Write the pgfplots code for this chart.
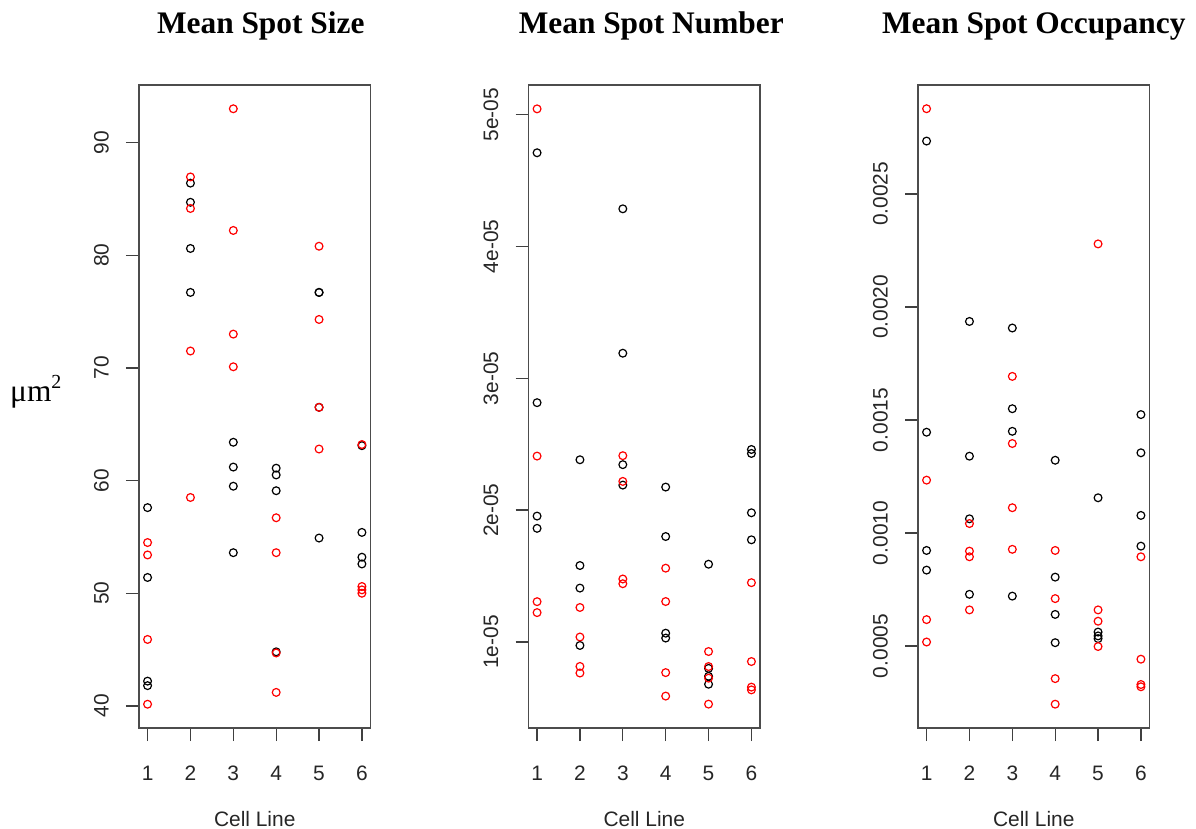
\documentclass[border=0pt]{standalone}
\usepackage{fontspec}
\setmainfont{Liberation Sans}
\newfontfamily\seriffont{Liberation Serif}
\usepackage{pgfplots}
\usepackage{pgfplotstable}
\pgfplotsset{compat=1.18}

\definecolor{rred}{HTML}{FF0000}

\pgfplotstableread{
x b r
1 57.6 54.5
1 51.4 53.4
1 42.2 45.9
1 41.8 40.15
2 86.4 86.95
2 84.7 84.15
2 80.6 71.5
2 76.7 58.5
3 63.4 93.0
3 61.2 82.2
3 59.5 73.0
3 53.6 70.1
4 61.1 56.7
4 60.5 53.6
4 59.1 44.7
4 44.8 41.2
5 76.7 80.8
5 76.7 74.3
5 66.5 66.5
5 54.9 62.8
6 63.1 63.2
6 55.4 50.6
6 53.2 50.3
6 52.6 50.0
}\sizedata

\pgfplotstableread{
x b r
1 4.71e-5 5.043e-5
1 2.815e-5 2.41e-5
1 1.955e-5 1.306e-5
1 1.862e-5 1.223e-5
2 2.382e-5 1.262e-5
2 1.58e-5 1.038e-5
2 1.409e-5 0.815e-5
2 0.974e-5 0.765e-5
3 4.285e-5 2.413e-5
3 3.19e-5 2.218e-5
3 2.345e-5 1.478e-5
3 2.19e-5 1.442e-5
4 2.175e-5 1.56e-5
4 1.80e-5 1.307e-5
4 1.067e-5 0.768e-5
4 1.03e-5 0.59e-5
5 1.59e-5 0.928e-5
5 0.80e-5 0.814e-5
5 0.74e-5 0.726e-5
5 0.68e-5 0.529e-5
6 2.46e-5 1.45e-5
6 2.43e-5 0.852e-5
6 1.98e-5 0.658e-5
6 1.775e-5 0.637e-5
}\numberdata

\pgfplotstableread{
x b r
1 0.002734 0.002877
1 0.001446 0.001234
1 0.000923 0.000617
1 0.000836 0.000518
2 0.001936 0.001042
2 0.001340 0.000920
2 0.001063 0.000895
2 0.000729 0.000660
3 0.001907 0.001693
3 0.001550 0.001396
3 0.001450 0.001112
3 0.000721 0.000928
4 0.001322 0.000923
4 0.000805 0.000710
4 0.000640 0.000356
4 0.000515 0.000243
5 0.001156 0.002279
5 0.000562 0.000660
5 0.000545 0.000610
5 0.000533 0.000498
6 0.001524 0.000895
6 0.001355 0.000442
6 0.001078 0.000330
6 0.000942 0.000320
}\occdata

\pgfplotsset{
  rpanel/.style={
    scale only axis, width=231.5bp, height=643bp, anchor=south west,
    xmin=0.8, xmax=6.2, xtick={1,2,3,4,5,6},
    tick pos=left, tick align=outside, major tick length=13bp,
    tick style={black!75, line width=1.3bp},
    axis line style={black!70, line width=1.6bp},
    scaled y ticks=false,
    /pgf/number format/assume math mode=true,
    every tick label/.append style={font=\fontsize{21}{25}\selectfont, text=black!85},
    xticklabel style={anchor=north, inner sep=0pt},
    yticklabel style={rotate=90, anchor=base, inner sep=0pt},
    xticklabel shift=25bp,
    yticklabel shift=17.5bp,
    xlabel={Cell Line},
    xlabel style={font=\fontsize{21}{25}\selectfont, text=black!85, at={(axis description cs:0.5,0)}, anchor=base, yshift=-98.5bp, inner sep=0pt},
    title style={font=\seriffont\bfseries\fontsize{31.5}{36}\selectfont, at={(axis description cs:0.5,1)}, anchor=base, yshift=45.7bp, inner sep=0pt},
  },
  bpts/.style={only marks, mark=o, mark size=3.9bp, black, mark options={line width=1.2bp}},
  rpts/.style={only marks, mark=o, mark size=3.9bp, rred, mark options={line width=1.2bp}},
}

\begin{document}
\begin{tikzpicture}
\path[use as bounding box] (0bp,0bp) rectangle (1196bp,829bp);

\begin{axis}[rpanel, at={(139bp,101bp)},
  ymin=38.04, ymax=95.11, ytick={40,50,60,70,80,90},
  title={Mean Spot Size}, title style={xshift=6bp},
  ylabel={μm\raisebox{0.42em}{\fontsize{20}{20}\selectfont 2}},
  ylabel style={font=\seriffont\fontsize{31.5}{36}\selectfont, rotate=-90, at={(axis description cs:0,0.5)}, anchor=base west, inner sep=0pt, xshift=-129bp, yshift=4.8bp},
]
\addplot[bpts] table[x=x, y=b] {\sizedata};
\addplot[rpts] table[x=x, y=r] {\sizedata};
\end{axis}

\begin{axis}[rpanel, at={(528.5bp,101bp)},
  ymin=0.348e-5, ymax=5.224e-5,
  ytick={1e-5,2e-5,3e-5,4e-5,5e-5},
  yticklabels={1e-05,2e-05,3e-05,4e-05,5e-05},
  title={Mean Spot Number}, title style={xshift=7bp},
]
\addplot[bpts] table[x=x, y=b] {\numberdata};
\addplot[rpts] table[x=x, y=r] {\numberdata};
\end{axis}

\begin{axis}[rpanel, at={(918bp,101bp)},
  ymin=0.0001376, ymax=0.002982,
  ytick={0.0005,0.0010,0.0015,0.0020,0.0025},
  yticklabels={0.0005,0.0010,0.0015,0.0020,0.0025},
  title={Mean Spot Occupancy},
]
\addplot[bpts] table[x=x, y=b] {\occdata};
\addplot[rpts] table[x=x, y=r] {\occdata};
\end{axis}
\end{tikzpicture}
\end{document}
